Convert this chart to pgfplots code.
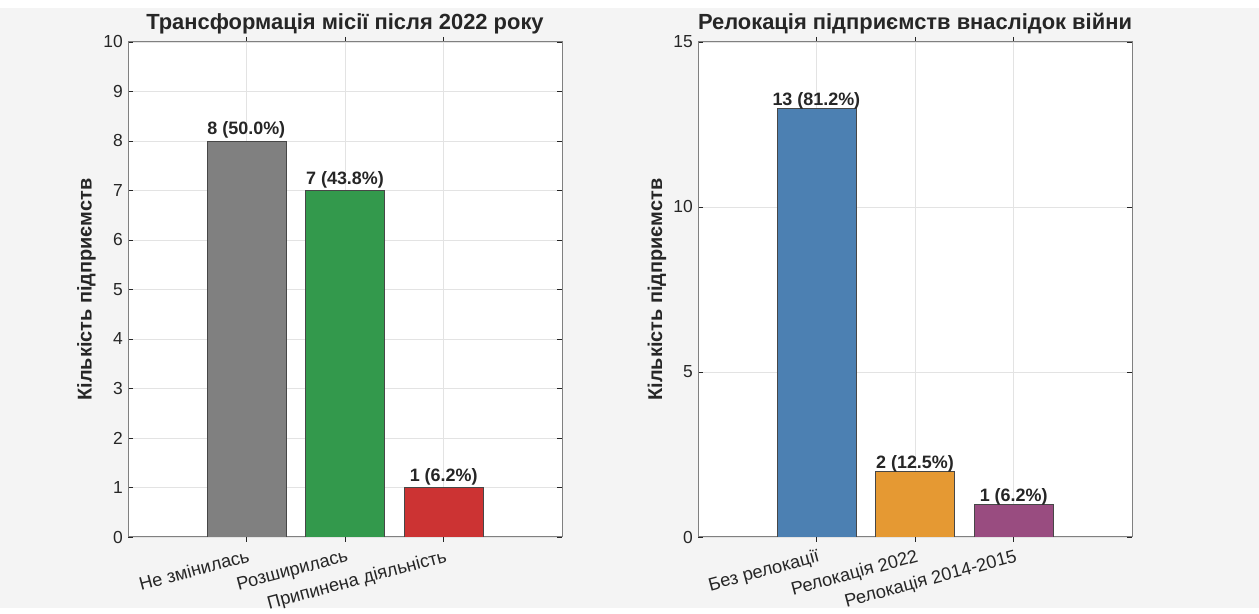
\documentclass[border=0pt]{standalone}
\usepackage{pgfplots}
\pgfplotsset{compat=1.18}
\usepackage{fontspec}
\setmainfont{Liberation Sans}
\definecolor{bg}{rgb}{0.957,0.957,0.957}
\definecolor{axgray}{rgb}{0.5,0.5,0.5}
\definecolor{txt}{rgb}{0.15,0.15,0.15}
\definecolor{cgray}{rgb}{0.5,0.5,0.5}
\definecolor{cgreen}{rgb}{0.2,0.6,0.3}
\definecolor{cred}{rgb}{0.8,0.2,0.2}
\definecolor{cblue}{rgb}{0.3,0.5,0.7}
\definecolor{corange}{rgb}{0.9,0.6,0.2}
\definecolor{cpurple}{rgb}{0.6,0.3,0.5}
\pgfplotsset{
  mystyle/.style={
    scale only axis, width=434bp, height=495bp,
    xmin=-0.2, xmax=4.2, ymin=0,
    xtick={1,2,3},
    axis background/.style={fill=white},
    axis line style={draw=axgray, line width=1pt},
    grid=major, major grid style={draw=black!11, line width=0.6pt},
    tick style={draw=txt, line width=0.6pt}, tick align=inside, major tick length=5bp,
    /pgf/number format/assume math mode=true,
    ticklabel style={font=\fontsize{17.5}{17.5}\selectfont, text=txt},
    yticklabel style={inner sep=0pt, xshift=-5bp},
    x tick label style={font=\fontsize{18.3}{18.3}\selectfont, rotate=15, anchor=north east, inner sep=0pt, xshift=-1bp, yshift=-6.5bp},
    ylabel style={font=\fontsize{20}{20}\selectfont\bfseries, text=txt, anchor=center},
    title style={font=\fontsize{22}{22}\selectfont\bfseries, text=txt, at={(axis description cs:0.5,1)}, anchor=base, inner sep=0pt, yshift=7bp},
    ybar, bar width=0.8, bar shift=0pt,
    nodes near coords, point meta=explicit symbolic,
    nodes near coords style={font=\fontsize{18}{18}\selectfont\bfseries, text=txt, inner sep=0pt, anchor=base},
    every axis plot/.append style={draw=black!72, line width=0.6pt},
  }
}
\begin{document}
\begin{tikzpicture}
\fill[white] (0,0) rectangle (1259bp,608bp);
\fill[bg] (0,0) rectangle (1259bp,600bp);
\begin{axis}[mystyle, at={(128bp,71bp)}, anchor=south west,
  ymax=10, ytick={0,1,2,3,4,5,6,7,8,9,10},
  xticklabels={Не змінилась, Розширилась, Припинена діяльність},
  title={Трансформація місії після 2022 року},
  ylabel={Кількість підприємств},
  ylabel style={at={(axis description cs:-0.0956,0.5)}},
  nodes near coords style={yshift=6bp}]
\addplot[fill=cgray] coordinates {(1,8) [8 (50.0\%)]};
\addplot[fill=cgreen] coordinates {(2,7) [7 (43.8\%)]};
\addplot[fill=cred] coordinates {(3,1) [1 (6.2\%)]};
\end{axis}
\begin{axis}[mystyle, at={(698bp,71bp)}, anchor=south west,
  ymax=15, ytick={0,5,10,15},
  xticklabels={Без релокації, Релокація 2022, Релокація 2014-2015},
  title={Релокація підприємств внаслідок війни},
  ylabel={Кількість підприємств},
  ylabel style={at={(axis description cs:-0.0945,0.5)}},
  nodes near coords style={yshift=2bp}]
\addplot[fill=cblue] coordinates {(1,13) [13 (81.2\%)]};
\addplot[fill=corange] coordinates {(2,2) [2 (12.5\%)]};
\addplot[fill=cpurple] coordinates {(3,1) [1 (6.2\%)]};
\end{axis}
\end{tikzpicture}
\end{document}
